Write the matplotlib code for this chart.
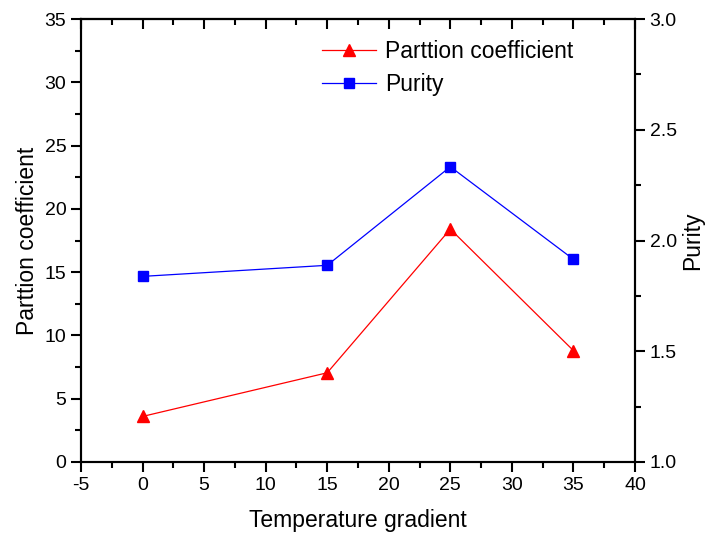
import matplotlib
matplotlib.use("Agg")
import matplotlib.pyplot as plt
from matplotlib.ticker import MultipleLocator, FormatStrFormatter

plt.rcParams['font.family'] = ['Liberation Sans', 'DejaVu Sans']
plt.rcParams['axes.unicode_minus'] = False

x = [0, 15, 25, 35]
partition = [3.6, 7.05, 18.4, 8.8]
purity = [1.838, 1.888, 2.333, 1.915]

fig = plt.figure(figsize=(7.07, 5.36), dpi=100)
ax = fig.add_axes([81/707, 1-462/536, (635-81)/707, (462-19)/536])
ax2 = ax.twinx()

l1, = ax.plot(x, partition, color='red', marker='^', markersize=8, lw=0.9, label='Parttion coefficient')
l2, = ax2.plot(x, purity, color='blue', marker='s', markersize=6.5, lw=0.9, label='Purity')

ax.set_xlim(-5, 40)
ax.set_ylim(0, 35)
ax2.set_ylim(1.0, 3.0)
ax.xaxis.set_major_locator(MultipleLocator(5))
ax.xaxis.set_minor_locator(MultipleLocator(2.5))
ax.yaxis.set_major_locator(MultipleLocator(5))
ax.yaxis.set_minor_locator(MultipleLocator(2.5))
ax2.yaxis.set_major_locator(MultipleLocator(0.5))
ax2.yaxis.set_minor_locator(MultipleLocator(0.25))
ax2.yaxis.set_major_formatter(FormatStrFormatter('%.1f'))

for a in (ax, ax2):
    for s in a.spines.values():
        s.set_linewidth(1.5)

ax.tick_params(axis='both', which='major', direction='out', length=7, width=1.5, labelsize=14)
ax.tick_params(axis='both', which='minor', direction='out', length=4, width=1.5)
ax.tick_params(axis='x', which='both', top=False)
ax2.tick_params(axis='y', which='major', direction='out', length=7, width=1.5, labelsize=14)
ax2.tick_params(axis='y', which='minor', direction='out', length=4, width=1.5)

secx = ax.secondary_xaxis('top')
secx.xaxis.set_major_locator(MultipleLocator(5))
secx.xaxis.set_minor_locator(MultipleLocator(2.5))
secx.tick_params(axis='x', which='major', direction='in', length=7, width=1.5, labeltop=False)
secx.tick_params(axis='x', which='minor', direction='in', length=4, width=1.5)
secx.spines['top'].set_linewidth(1.5)

ax.set_xlabel('Temperature gradient', fontsize=16.5, labelpad=11)
ax.set_ylabel('Parttion coefficient', fontsize=16.5, labelpad=4)
ax2.set_ylabel('Purity', fontsize=16.5, labelpad=3)

ax.legend(handles=[l1, l2], loc='upper left', bbox_to_anchor=(0.419, 0.973), frameon=False,
          fontsize=16.5, handlelength=2.35, handletextpad=0.4, labelspacing=0.45, borderaxespad=0)

fig.savefig('out.png', dpi=100)
